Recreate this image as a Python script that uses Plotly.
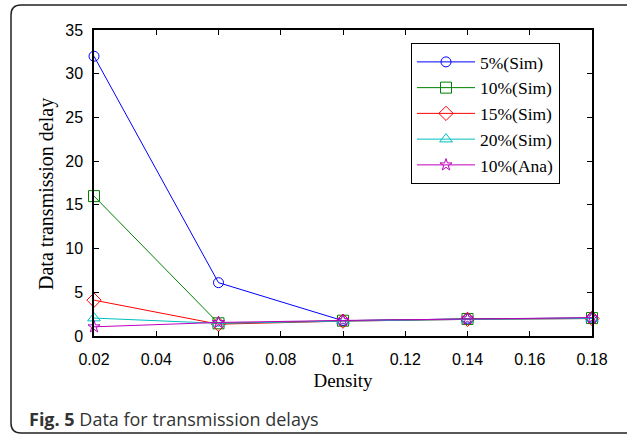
import plotly.graph_objects as go

density = [0.02, 0.06, 0.10, 0.14, 0.18]
sim5 = [32.0, 6.1, 1.75, 1.95, 2.05]
sim10 = [16.0, 1.45, 1.75, 1.95, 2.05]
sim15 = [4.1, 1.35, 1.7, 1.9, 2.0]
sim20 = [2.05, 1.45, 1.7, 1.9, 2.0]
ana10 = [1.05, 1.55, 1.78, 1.97, 2.1]
names = ["5%(Sim)", "10%(Sim)", "15%(Sim)", "20%(Sim)", "10%(Ana)"]
series = [sim5, sim10, sim15, sim20, ana10]
colors = ["#0000ff", "#008000", "#ff0000", "#00bfbf", "#bf00bf"]
symbols = ["circle-open", "square-open", "diamond-open", "triangle-up-open", "star-open"]
sizes = [10, 11, 11, 11, 9]

W, H = 627, 436
L, R, T, B = 94, 35, 30, 100
pw, ph = W - L - R, H - T - B

fig = go.Figure()
for n, s, c, sym, sz in zip(names, series, colors, symbols, sizes):
    fig.add_trace(go.Scatter(
        x=density, y=s, name=n, mode="lines+markers",
        line=dict(color=c, width=1),
        marker=dict(symbol=sym, size=sz, color=c, line=dict(width=1, color=c)),
        cliponaxis=False,
    ))

def px2x(px):
    return (px - L) / pw

def py2y(py):
    return (H - B - py) / ph

# rounded outer frame
x0, x1, y0, y1, r = 11, 640, 5, 433, 10
path = (f"M {px2x(x0+r)},{py2y(y0)} L {px2x(x1)},{py2y(y0)} "
        f"M {px2x(x0+r)},{py2y(y0)} Q {px2x(x0)},{py2y(y0)} {px2x(x0)},{py2y(y0+r)} "
        f"L {px2x(x0)},{py2y(y1-r)} Q {px2x(x0)},{py2y(y1)} {px2x(x0+r)},{py2y(y1)} "
        f"L {px2x(x1)},{py2y(y1)}")

fig.update_layout(
    width=W, height=H,
    margin=dict(l=L, r=R, t=T, b=B),
    paper_bgcolor="white", plot_bgcolor="white",
    showlegend=True,
    legend=dict(
        x=px2x(411), y=py2y(43), xanchor="left", yanchor="top",
        bgcolor="white", bordercolor="black", borderwidth=1,
        font=dict(family="Liberation Serif", size=17.5, color="black"),
        itemwidth=58, tracegroupgap=0,
    ),
    shapes=[dict(type="path", path=path, xref="paper", yref="paper",
                 line=dict(color="#222222", width=1.5))],
    annotations=[
        dict(text="<b>Fig. 5</b> Data for transmission delays",
             x=px2x(27), y=py2y(419), xref="paper", yref="paper",
             xanchor="left", yanchor="middle", showarrow=False,
             font=dict(family="Open Sans", size=18, color="#333333")),
        dict(text="Data transmission delay", textangle=-90,
             x=px2x(46), y=py2y(194), xref="paper", yref="paper",
             xanchor="center", yanchor="middle", showarrow=False,
             font=dict(family="Liberation Serif", size=20, color="black")),
    ],
)
fig.update_xaxes(
    range=[0.02, 0.18], tickvals=[0.02, 0.04, 0.06, 0.08, 0.10, 0.12, 0.14, 0.16, 0.18],
    ticktext=["0.02", "0.04", "0.06", "0.08", "0.1", "0.12", "0.14", "0.16", "0.18"],
    ticks="inside", ticklen=5, tickcolor="black", mirror="ticks",
    showline=True, linecolor="black", linewidth=1.5, showgrid=False, zeroline=False,
    tickfont=dict(family="Liberation Sans", size=16, color="black"),
    ticklabelstandoff=8,
    title=dict(text="Density", font=dict(family="Liberation Serif", size=19, color="black"), standoff=7),
)
fig.update_yaxes(
    range=[0, 35], tickvals=[0, 5, 10, 15, 20, 25, 30, 35],
    ticks="inside", ticklen=5, tickcolor="black", mirror="ticks",
    showline=True, linecolor="black", linewidth=1.5, showgrid=False, zeroline=False,
    tickfont=dict(family="Liberation Sans", size=16, color="black"),
    ticklabelstandoff=6,
)
fig.write_html("out.html")
